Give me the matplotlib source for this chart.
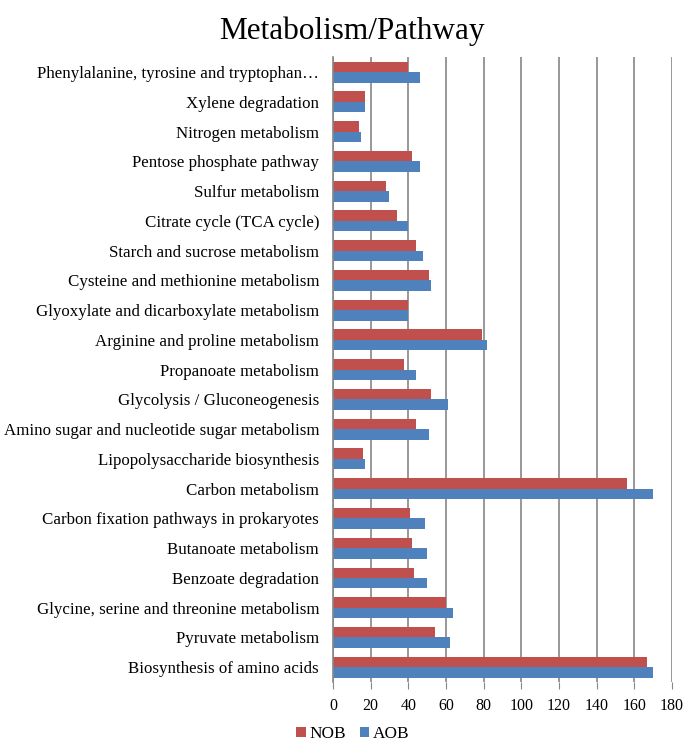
import matplotlib
matplotlib.use("Agg")
import matplotlib.pyplot as plt
import numpy as np

categories = [
    "Biosynthesis of amino acids",
    "Pyruvate metabolism",
    "Glycine, serine and threonine metabolism",
    "Benzoate degradation",
    "Butanoate metabolism",
    "Carbon fixation pathways in prokaryotes",
    "Carbon metabolism",
    "Lipopolysaccharide biosynthesis",
    "Amino sugar and nucleotide sugar metabolism",
    "Glycolysis / Gluconeogenesis",
    "Propanoate metabolism",
    "Arginine and proline metabolism",
    "Glyoxylate and dicarboxylate metabolism",
    "Cysteine and methionine metabolism",
    "Starch and sucrose metabolism",
    "Citrate cycle (TCA cycle)",
    "Sulfur metabolism",
    "Pentose phosphate pathway",
    "Nitrogen metabolism",
    "Xylene degradation",
    "Phenylalanine, tyrosine and tryptophan\u2026",
]
nob = [167, 54, 60, 43, 42, 41, 156, 16, 44, 52, 38, 79, 40, 51, 44, 34, 28, 42, 14, 17, 40]
aob = [170, 62, 64, 50, 50, 49, 170, 17, 51, 61, 44, 82, 40, 52, 48, 40, 30, 46, 15, 17, 46]
xticks = list(range(0, 181, 20))

plt.rcParams['font.family'] = ['Liberation Serif', 'DejaVu Serif']

fig = plt.figure(figsize=(6.85, 7.43), dpi=100)
ax = fig.add_axes([0.486, 0.082, 0.495, 0.841])

y = np.arange(len(categories))
h = 0.35
ax.barh(y - h / 2, aob, height=h, color='#4F81BD', label='AOB', zorder=3)
ax.barh(y + h / 2, nob, height=h, color='#C0504D', label='NOB', zorder=3)

ax.set_ylim(-0.5, len(categories) - 0.5)
ax.set_xlim(0, 180)
ax.set_xticks(xticks)
ax.set_xticklabels([str(t) for t in xticks], fontsize=11.5)
ax.set_yticks(y)
ax.set_yticklabels(categories, fontsize=12.2)
ax.tick_params(axis='y', length=0, pad=10)
ax.tick_params(axis='x', length=5, color='#868686', pad=6.5)
ax.xaxis.grid(True, color='#868686', linewidth=1.2, zorder=0)
for s in ['top', 'right', 'bottom']:
    ax.spines[s].set_visible(False)
ax.spines['left'].set_color('#868686')
ax.spines['left'].set_linewidth(1.2)
ax.spines['left'].set_zorder(4)

fig.suptitle("Metabolism/Pathway", fontsize=22.5, x=0.514, y=0.978)

handles, labels = ax.get_legend_handles_labels()
fig.legend(handles[::-1], labels[::-1], loc='lower center', bbox_to_anchor=(0.515, -0.013),
           ncol=2, frameon=False, fontsize=12.4, handlelength=0.55, handleheight=0.55,
           handletextpad=0.2, columnspacing=0.8, borderpad=0.1)

fig.savefig("out.png", dpi=100)
